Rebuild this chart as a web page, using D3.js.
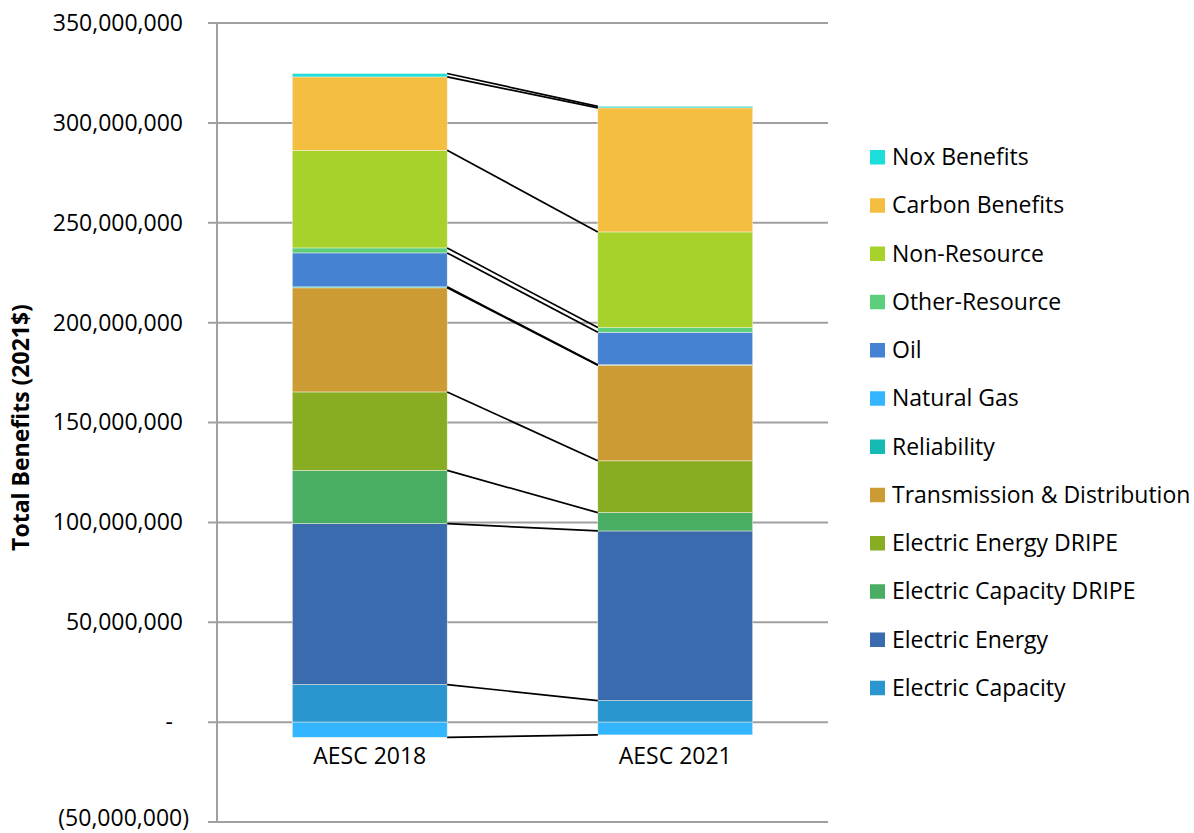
<!DOCTYPE html>
<html>
<head>
<meta charset="utf-8">
<script src="https://cdn.jsdelivr.net/npm/d3@7"></script>
<style>
  html, body { margin: 0; padding: 0; background: #fff; }
  svg text { font-family: "Open Sans", "Liberation Sans", sans-serif; fill: #000; }
</style>
</head>
<body>
<svg id="chart" width="1194" height="833"></svg>
<script>
// Study vintages shown as the two stacked columns
const categories = ["AESC 2018", "AESC 2021"];

// Benefit streams, in stacking order from the baseline up (2021$)
const electricCapacity       = [18.8e6, 10.8e6];
const electricEnergy         = [80.6e6, 84.9e6];
const electricCapacityDripe  = [26.6e6,  9.2e6];
const electricEnergyDripe    = [39.3e6, 25.9e6];
const transmissionDistrib    = [52.1e6, 47.9e6];
const reliability            = [ 0.5e6,  0.2e6];
const naturalGas             = [-7.6e6, -6.4e6];
const oil                    = [17.0e6, 16.3e6];
const otherResource          = [ 2.5e6,  2.3e6];
const nonResource            = [48.9e6, 47.9e6];
const carbonBenefits         = [36.7e6, 62.1e6];
const noxBenefits            = [ 1.7e6,  0.8e6];

const seriesNames = [
  "Electric Capacity", "Electric Energy", "Electric Capacity DRIPE",
  "Electric Energy DRIPE", "Transmission & Distribution", "Reliability",
  "Natural Gas", "Oil", "Other-Resource", "Non-Resource",
  "Carbon Benefits", "Nox Benefits"
];
const seriesValues = [
  electricCapacity, electricEnergy, electricCapacityDripe,
  electricEnergyDripe, transmissionDistrib, reliability,
  naturalGas, oil, otherResource, nonResource,
  carbonBenefits, noxBenefits
];
const seriesColors = [
  "#2996d0", "#396bae", "#4aad64",
  "#88ac22", "#cc9b33", "#14bab3",
  "#33b6ff", "#4583d2", "#5ccf7c", "#a7d12b",
  "#f4bf40", "#1cdedb"
];

// Axis ticks
const yTicks = [-50e6, 0, 50e6, 100e6, 150e6, 200e6, 250e6, 300e6, 350e6];

// Row table for d3.stack
const table = categories.map((c, i) => {
  const row = { category: c };
  seriesNames.forEach((s, k) => { row[s] = seriesValues[k][i]; });
  return row;
});

const svg = d3.select("#chart");

const plotLeft = 217, plotRight = 828, plotTop = 23, plotBottom = 822;

const x = d3.scaleBand()
  .domain(categories)
  .range([plotLeft, plotRight])
  .paddingInner(0.493)
  .paddingOuter(0.2465);

const y = d3.scaleLinear()
  .domain([-50e6, 350e6])
  .range([plotBottom, plotTop]);

const color = d3.scaleOrdinal().domain(seriesNames).range(seriesColors);

// Gridlines (with the short outside tick)
svg.append("g")
  .selectAll("line")
  .data(yTicks)
  .join("line")
  .attr("x1", plotLeft - 9)
  .attr("x2", plotRight)
  .attr("y1", d => y(d))
  .attr("y2", d => y(d))
  .attr("stroke", "#a0a0a0")
  .attr("stroke-width", 2);

// Vertical axis line
svg.append("line")
  .attr("x1", plotLeft).attr("x2", plotLeft)
  .attr("y1", y(350e6)).attr("y2", y(-50e6))
  .attr("stroke", "#a0a0a0")
  .attr("stroke-width", 2);

// Tick labels in accounting style
const fmt = d3.format(",");
const yAxis = d3.axisLeft(y)
  .tickValues(yTicks)
  .tickSize(0)
  .tickFormat(d => d === 0 ? "-" : d < 0 ? "(" + fmt(-d) + ")" : fmt(d));

const yAxisG = svg.append("g")
  .attr("transform", `translate(${plotLeft},0)`)
  .call(yAxis);
yAxisG.select(".domain").remove();
yAxisG.selectAll(".tick text")
  .attr("font-size", 23)
  .attr("font-family", "'Open Sans', sans-serif")
  .attr("fill", "#000")
  .attr("x", d => d === 0 ? -(plotLeft - 173) : d < 0 ? -(plotLeft - 189) : -(plotLeft - 183))
  .attr("y", d => d < 0 ? -4 : 0);

// Stacked bars
const stack = d3.stack()
  .keys(seriesNames)
  .offset(d3.stackOffsetDiverging);
const stacked = stack(table);

svg.append("g")
  .selectAll("g")
  .data(stacked)
  .join("g")
  .attr("fill", d => color(d.key))
  .selectAll("rect")
  .data(d => d)
  .join("rect")
  .attr("x", d => x(d.data.category))
  .attr("width", x.bandwidth())
  .attr("y", d => y(Math.max(d[0], d[1])))
  .attr("height", d => Math.abs(y(d[0]) - y(d[1])))
  .attr("stroke", "#f4f1e4")
  .attr("stroke-width", 0.5);

// Series lines linking the outer end of each segment across the two columns
const endOf = d => (d[0] < 0 && d[1] <= 0) ? d[0] : d[1];
svg.append("g")
  .selectAll("line")
  .data(stacked)
  .join("line")
  .attr("x1", x(categories[0]) + x.bandwidth())
  .attr("x2", x(categories[1]))
  .attr("y1", s => y(endOf(s[0])))
  .attr("y2", s => y(endOf(s[1])))
  .attr("stroke", "#000")
  .attr("stroke-width", 1.7);

// Category labels
svg.append("g")
  .selectAll("text")
  .data(categories)
  .join("text")
  .attr("x", d => x(d) + x.bandwidth() / 2)
  .attr("y", 756)
  .attr("dy", "0.35em")
  .attr("text-anchor", "middle")
  .attr("font-size", 23)
  .text(d => d);

// Axis title
svg.append("text")
  .attr("transform", `translate(21,${(plotTop + plotBottom) / 2 + 5}) rotate(-90)`)
  .attr("text-anchor", "middle")
  .attr("dy", "0.35em")
  .attr("font-size", 23)
  .attr("font-weight", "bold")
  .text("Total Benefits (2021$)");

// Legend, newest stream at the top
const legendItems = seriesNames.slice().reverse();
const legend = svg.append("g")
  .selectAll("g")
  .data(legendItems)
  .join("g")
  .attr("transform", (d, i) => `translate(870,${157 + i * 48.25})`);
legend.append("rect")
  .attr("x", 0).attr("y", -7)
  .attr("width", 15).attr("height", 14.5)
  .attr("fill", d => color(d));
legend.append("text")
  .attr("x", 22)
  .attr("y", 0)
  .attr("dy", "0.35em")
  .attr("font-size", 23)
  .text(d => d);
</script>
</body>
</html>
